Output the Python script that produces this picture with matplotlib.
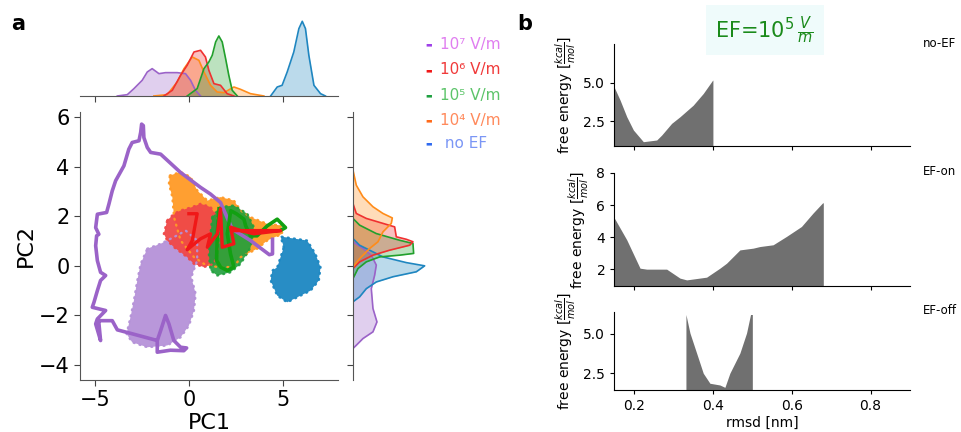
import matplotlib
matplotlib.use("Agg")
import matplotlib.pyplot as plt

# ---------------- panel a data ----------------
# scatter clouds, drawn as outlines of the point clouds
cloud7_x = [-2.23, -1.52, -0.81, -0.19, 0.42, 0.42, 0.11, 0.34, 0.25, -0.02, -0.46, -1.17, -2.23, -3.03, -3.33, -3.12, -2.94, -2.76, -2.58]
cloud7_y = [0.69, 0.89, 1.16, 1.42, 1.02, 0.22, -0.46, -1.13, -1.80, -2.41, -2.88, -3.21, -3.28, -3.08, -2.74, -2.07, -1.40, -0.59, 0.08]
cloud4_x = [-1.03, -0.46, 0.07, 0.42, 0.96, 1.66, 2.37, 2.73, 3.26, 4.14, 4.85, 4.94, 4.14, 3.61, 2.73, 2.37, 1.49, 0.78, 0.25, -0.46, -0.81, -0.90, -1.08]
cloud4_y = [3.64, 3.78, 3.58, 3.04, 2.63, 2.77, 2.63, 2.23, 1.96, 1.69, 1.63, 1.29, 1.02, 0.69, 0.35, -0.05, -0.05, 0.08, 0.35, 1.02, 1.96, 2.77, 3.31]
cloud6_x = [-1.17, -0.81, -0.46, 0.16, 0.60, 1.13, 1.49, 1.58, 1.49, 1.31, 0.78, 0.25, -0.11, -0.81, -1.17, -1.35]
cloud6_y = [1.83, 2.10, 2.23, 2.37, 2.50, 2.37, 1.96, 1.29, 0.48, 0.08, -0.05, 0.08, 0.35, 0.75, 1.02, 1.29]
cloud5_x = [1.22, 1.66, 2.37, 3.08, 3.43, 3.26, 2.73, 2.19, 1.49, 1.13, 1.04, 1.13]
cloud5_y = [1.96, 2.37, 2.43, 2.10, 1.56, 0.75, 0.08, -0.26, -0.39, -0.19, 0.48, 1.29]
cloud0_x = [5.02, 4.85, 5.55, 6.26, 6.70, 6.97, 6.88, 6.44, 5.91, 5.20, 4.67, 4.32, 4.41, 4.67]
cloud0_y = [0.75, 1.18, 1.10, 1.02, 0.48, -0.06, -0.59, -1.00, -1.20, -1.47, -1.20, -0.59, -0.19, -0.06]

# trajectories
traj7_x = [4.42, 4.42, 4.25, 3.25, 2.28, 1.66, 1.13, 0.60, -0.46, -1.52, -2.05, -2.23, -2.41, -2.44,
           -2.53, -2.58, -2.67, -3.03, -3.21, -3.47, -3.91, -4.09, -4.27, -4.39, -4.88, -4.97, -4.80,
           -4.92, -4.97, -4.88, -4.71, -4.44, -4.71, -4.88, -5.06, -5.15, -4.44, -4.88, -4.97, -4.71,
           -4.80, -4.88, -4.09, -3.82, -3.12, -1.70, -1.52, -1.26, -1.08, -0.82, -0.46, -0.14, -0.29,
           -1.00, -1.70, -1.70]
traj7_y = [1.07, 0.48, 0.45, 1.02, 1.48, 2.55, 2.89, 3.16, 3.76, 4.50, 4.57, 4.77, 5.17, 5.65,
           5.71, 5.38, 5.04, 4.97, 4.70, 4.03, 3.43, 3.02, 2.48, 2.15, 2.08, 1.54, 1.27,
           1.21, 0.81, 0.21, -0.26, -0.39, -0.59, -1.00, -1.47, -1.67, -1.80, -2.14, -2.34, -3.01,
           -2.30, -2.21, -2.21, -2.58, -2.72, -3.01, -2.61, -2.00, -2.34, -3.01, -3.28, -3.31, -3.42,
           -3.40, -3.48, -3.01]
traj6_x = [-0.02, 0.42, 0.16, -0.11, 0.60, 1.13, 0.96, 1.49, 1.66, 1.75, 2.37, 2.19, 2.73, 3.43, 4.85, 2.37]
traj6_y = [2.10, 2.10, 1.02, 0.65, 1.09, 1.29, 0.75, 1.29, 2.30, 0.75, 0.89, 1.56, 1.42, 1.29, 1.42, 1.42]
traj5_x = [1.58, 1.49, 1.45, 1.66, 2.02, 2.37, 2.19, 2.02, 2.20, 2.50, 2.90, 3.00, 3.25, 3.60, 4.14, 4.67, 5.11, 4.90]
traj5_y = [2.30, 1.29, 0.22, -0.05, -0.19, -0.05, 0.48, 1.29, 2.22, 2.10, 1.88, 1.60, 1.21, 1.21, 1.61, 1.88, 1.54, 1.45]

# marginal densities along PC1 (arbitrary height units)
kde1_7_x = [-3.82, -3.29, -2.94, -2.50, -2.23, -1.97, -1.61, -1.26, -0.64, -0.20, 0.07, 0.33, 0.60]
kde1_7_h = [0, 4, 22, 47, 72, 82, 67, 70, 70, 67, 47, 17, 0]
kde1_4_x = [-1.88, -1.17, -0.64, -0.28, 0.16, 0.51, 0.78, 1.13, 1.48, 1.84, 2.37, 2.72, 3.25, 3.96]
kde1_4_h = [0, 4, 42, 82, 117, 107, 72, 32, 12, 10, 27, 20, 7, 0]
kde1_6_x = [-1.35, -0.90, -0.46, -0.11, 0.25, 0.60, 0.86, 1.04, 1.31, 1.66, 2.01, 2.37]
kde1_6_h = [0, 17, 62, 92, 132, 137, 117, 77, 37, 32, 7, 0]
kde1_5_x = [-0.11, 0.42, 0.78, 1.04, 1.22, 1.40, 1.57, 1.75, 1.93, 2.10, 2.28, 2.55]
kde1_5_h = [0, 22, 82, 102, 122, 162, 180, 162, 112, 62, 17, 0]
kde1_0_x = [4.32, 4.67, 4.93, 5.20, 5.55, 5.82, 6.00, 6.17, 6.35, 6.62, 6.97, 7.23]
kde1_0_h = [0, 27, 32, 72, 132, 202, 224, 202, 122, 32, 7, 0]

# marginal densities along PC2
kde2_4_y = [3.86, 3.25, 2.78, 2.38, 2.11, 1.93, 1.71, 1.37, 0.97, 0.70, 0.29, -0.04]
kde2_4_w = [0, 10, 30, 60, 90, 118, 115, 90, 75, 50, 20, 0]
kde2_6_y = [2.51, 2.11, 1.91, 1.71, 1.57, 1.17, 1.07, 0.97, 0.83, 0.63, 0.43, 0.16, -0.11]
kde2_6_w = [0, 10, 40, 90, 125, 130, 160, 180, 170, 110, 60, 20, 0]
kde2_5_y = [1.91, 1.64, 1.30, 1.03, 0.90, 0.50, 0.43, 0.36, 0.16, -0.11, -0.38, -0.51]
kde2_5_w = [0, 20, 70, 140, 180, 182, 140, 80, 40, 15, 5, 0]
kde2_0_y = [1.10, 0.83, 0.63, 0.36, 0.13, 0.00, -0.24, -0.44, -0.65, -0.92, -1.25, -1.45]
kde2_0_w = [0, 20, 50, 90, 160, 215, 190, 120, 70, 40, 20, 0]
kde2_7_y = [0.97, 0.70, 0.43, 0.03, -0.38, -0.92, -1.72, -2.26, -2.66, -2.93, -3.20, -3.33]
kde2_7_w = [0, 30, 55, 70, 65, 55, 60, 72, 60, 30, 10, 0]

legend_labels = ["10\u2077 V/m", "10\u2076 V/m", "10\u2075 V/m", "10\u2074 V/m", " no EF"]

# ---------------- panel b data ----------------
noef_x = [0.15, 0.1646, 0.1815, 0.1983, 0.2236, 0.2574, 0.270, 0.2953, 0.3165, 0.35, 0.3755, 0.3992, 0.40]
noef_y = [4.68, 3.86, 2.78, 1.92, 1.16, 1.27, 1.59, 2.35, 2.78, 3.53, 4.29, 5.15, 5.15]
efon_x = [0.15, 0.1815, 0.2152, 0.232, 0.2827, 0.3165, 0.3334, 0.384, 0.4177, 0.4346, 0.4684,
          0.5021, 0.519, 0.5527, 0.5865, 0.6245, 0.654, 0.6776, 0.68]
efon_y = [5.19, 3.83, 2.06, 2.0, 2.0, 1.44, 1.33, 1.5, 2.06, 2.37, 3.2,
          3.31, 3.41, 3.52, 4.04, 4.66, 5.5, 6.12, 6.15]
efoff_x = [0.3316, 0.3418, 0.3587, 0.3755, 0.3924, 0.4177, 0.4304, 0.443, 0.4684, 0.4853, 0.4954, 0.50]
efoff_y = [6.24, 5.06, 3.78, 2.5, 1.86, 1.75, 1.6, 2.5, 3.78, 5.06, 6.24, 6.24]
panel_names = ["no-EF", "EF-on", "EF-off"]

# ---------------- colours ----------------
c7, c6, c5, c4, c0 = "#9b63c8", "#f03030", "#22a02c", "#ff8c1a", "#1f86c0"
cl7, cl6, cl5, cl4, cl0 = "#b592d8", "#f04848", "#1f9f3c", "#ff9a26", "#1c87c2"

fig = plt.figure(figsize=(9.62, 4.32), dpi=100)

# ---------- main joint plot ----------
ax = fig.add_axes([0.0832, 0.1204, 0.2682, 0.6204])
for xs, ys, c, a in [(cloud7_x, cloud7_y, cl7, 0.95), (cloud4_x, cloud4_y, cl4, 0.95),
                     (cloud6_x, cloud6_y, cl6, 0.95), (cloud5_x, cloud5_y, cl5, 0.9),
                     (cloud0_x, cloud0_y, cl0, 0.95)]:
    ax.fill(xs, ys, color=c, lw=0, alpha=a)
    # speckled rim so the cloud edge looks like scattered points
    ax.plot(xs + xs[:1], ys + ys[:1], color=c, lw=1.7, ls=(0, (0.4, 2.2)),
            dash_capstyle="round", alpha=a)
ax.plot(traj7_x, traj7_y, color=c7, lw=2.6, solid_joinstyle="round")
ax.plot(traj5_x, traj5_y, color="#12a012", lw=2.6, solid_joinstyle="round")
ax.plot(traj6_x, traj6_y, color="#f01818", lw=2.4, solid_joinstyle="round")
ax.set_xlim(-5.8, 7.9)
ax.set_ylim(-4.6, 6.2)
ax.set_xticks([-5, 0, 5])
ax.set_yticks([-4, -2, 0, 2, 4, 6])
ax.tick_params(labelsize=15, length=4, color="#444444")
ax.set_xlabel("PC1", fontsize=16, labelpad=2)
ax.set_ylabel("PC2", fontsize=16, labelpad=2)
for s in ["top", "right"]:
    ax.spines[s].set_visible(False)
for s in ["left", "bottom"]:
    ax.spines[s].set_color("#555555")

# top marginal
axt = fig.add_axes([0.0832, 0.7778, 0.2682, 0.1806])
for xs, hs, c in [(kde1_7_x, kde1_7_h, c7), (kde1_4_x, kde1_4_h, c4), (kde1_6_x, kde1_6_h, c6),
                  (kde1_5_x, kde1_5_h, c5), (kde1_0_x, kde1_0_h, c0)]:
    axt.fill_between(xs, 0, hs, color=c, alpha=0.3, lw=0)
    axt.plot(xs, hs, color=c, lw=1.2)
axt.set_xlim(-5.8, 7.9)
axt.set_ylim(0, 234)
axt.set_xticks([-5, 0, 5])
axt.set_xticklabels([])
axt.set_yticks([])
axt.tick_params(length=4, color="#444444")
for s in ["top", "right", "left"]:
    axt.spines[s].set_visible(False)
axt.spines["bottom"].set_color("#555555")

# right marginal
axr = fig.add_axes([0.3669, 0.1204, 0.0811, 0.6204])
for ys, ws, c in [(kde2_7_y, kde2_7_w, c7), (kde2_0_y, kde2_0_w, c0), (kde2_5_y, kde2_5_w, c5),
                  (kde2_6_y, kde2_6_w, c6), (kde2_4_y, kde2_4_w, c4)]:
    axr.fill_betweenx(ys, 0, ws, color=c, alpha=0.3, lw=0)
    axr.plot(ws, ys, color=c, lw=1.2)
axr.set_ylim(-4.6, 6.2)
axr.set_xlim(0, 234)
axr.set_yticks([-4, -2, 0, 2, 4, 6])
axr.set_yticklabels([])
axr.set_xticks([])
axr.tick_params(length=4, color="#444444")
for s in ["top", "right", "bottom"]:
    axr.spines[s].set_visible(False)
axr.spines["left"].set_color("#555555")

# legend
marker_cols = ["#9f40e8", "#f01818", "#1ea040", "#ff6a1a", "#2f6af0"]
text_cols = ["#e07ef0", "#f03a3a", "#5dc46a", "#ff8a5c", "#7b96f5"]
leg_y = [0.898, 0.838, 0.780, 0.722, 0.667]
for lab, mc, tc, yy in zip(legend_labels, marker_cols, text_cols, leg_y):
    fig.text(0.4455, yy, "\u25ac", color=mc, fontsize=5, ha="center", va="center")
    fig.text(0.457, yy, lab, color=tc, fontsize=11, ha="left", va="center")

fig.text(0.012, 0.945, "a", fontsize=15, fontweight="bold", va="center")
fig.text(0.538, 0.945, "b", fontsize=15, fontweight="bold", va="center")

# ---------- panel b ----------
ylab = r"free energy [$\frac{kcal}{mol}$]"
boxes = [[0.6386, 0.662, 0.3074, 0.2361], [0.6386, 0.338, 0.3074, 0.2616], [0.6386, 0.0972, 0.3074, 0.1806]]
series = [(noef_x, noef_y, (0.88, 7.5), [2.5, 5.0]),
          (efon_x, efon_y, (0.95, 8.0), [2, 4, 6, 8]),
          (efoff_x, efoff_y, (1.43, 6.4), [2.5, 5.0])]
name_y = [0.90, 0.602, 0.282]
for i, (box, (xs, ys, yl, yt)) in enumerate(zip(boxes, series)):
    b = fig.add_axes(box)
    b.fill_between(xs, 0, ys, color="#707070", lw=0)
    b.set_xlim(0.15, 0.9)
    b.set_ylim(*yl)
    b.set_yticks(yt)
    b.set_xticks([0.2, 0.4, 0.6, 0.8])
    b.tick_params(labelsize=10, length=3)
    if i < 2:
        b.set_xticklabels([])
    else:
        b.set_xlabel("rmsd [nm]", fontsize=10, labelpad=2)
    b.set_ylabel(ylab, fontsize=10)
    for s in ["top", "right"]:
        b.spines[s].set_visible(False)
    fig.text(0.9595, name_y[i], panel_names[i], fontsize=8.5, ha="left", va="center")

fig.text(0.795, 0.93, r"EF=$10^5\,\frac{V}{m}$", color="#1a8a1a", fontsize=15,
         ha="center", va="center",
         bbox=dict(boxstyle="square,pad=0.45", facecolor="#effbfb", edgecolor="none"))

fig.savefig("out.png", dpi=100)
